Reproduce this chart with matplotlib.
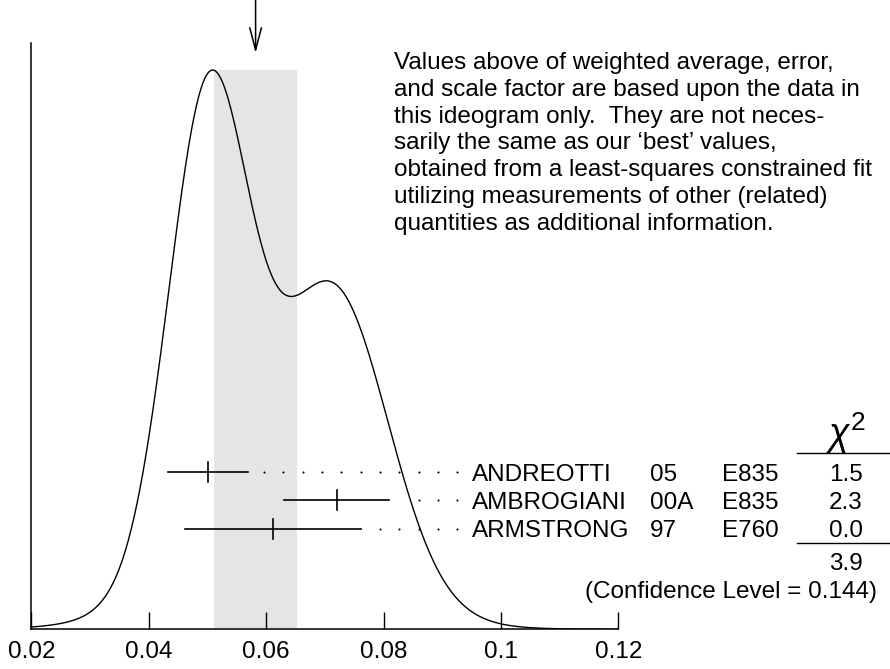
import numpy as np
import matplotlib
matplotlib.use('Agg')
import matplotlib.pyplot as plt
from matplotlib.lines import Line2D

plt.rcParams['font.family'] = ['Liberation Sans', 'DejaVu Sans']
plt.rcParams['mathtext.fontset'] = 'custom'
plt.rcParams['mathtext.rm'] = 'Liberation Sans'
plt.rcParams['mathtext.it'] = 'Liberation Sans:italic'

# Measurements shown in the ideogram
authors = ['ANDREOTTI', 'AMBROGIANI', 'ARMSTRONG']
years = ['05', '00A', '97']
experiments = ['E835', 'E835', 'E760']
values = [0.0501, 0.0720, 0.0611]
errors = [0.0068, 0.0090, 0.0150]
chi2 = ['1.5', '2.3', '0.0']
chi2_total = '3.9'
conf_level = '0.144'

# Weighted average and (scaled) error
avg = 0.0582
avg_err = 0.0071

x_ticks = [0.02, 0.04, 0.06, 0.08, 0.1, 0.12]
x_tick_labels = ['0.02', '0.04', '0.06', '0.08', '0.1', '0.12']

note = ["Values above of weighted average, error,",
        "and scale factor are based upon the data in",
        "this ideogram only.  They are not neces-",
        "sarily the same as our \u2018best\u2019 values,",
        "obtained from a least-squares constrained fit",
        "utilizing measurements of other (related)",
        "quantities as additional information."]

W, H = 890, 669
FS = 17.5


def px(x, y):
    return x / W, 1 - y / H


fig = plt.figure(figsize=(W / 100, H / 100), dpi=100)

x0, y_base, x1, y_top = 31.4, 629.3, 618.3, 42.7
ax = fig.add_axes([x0 / W, 1 - y_base / H, (x1 - x0) / W, (y_base - y_top) / H])
ax_h = y_base - y_top

# Ideogram: one gaussian per measurement, area ~ 1/error
xs = np.linspace(0.02, 0.12, 800)
ideo = np.zeros_like(xs)
for v, e in zip(values, errors):
    ideo += np.exp(-0.5 * ((xs - v) / e) ** 2) / e ** 2
peak = (y_base - 70) / ax_h
ideo = ideo / ideo.max() * peak

ax.axvspan(avg - avg_err, avg + avg_err, ymin=0, ymax=peak,
           color='#e5e5e5', lw=0, zorder=0)
ax.plot(xs, ideo, color='k', lw=1.0, zorder=3)

# Error bars with dotted leaders
row_y = [(y_base - 472) / ax_h, (y_base - 500.3) / ax_h, (y_base - 528.7) / ax_h]
tick_h = 10 / ax_h
dot_end, dot_step, dot_gap = 0.0926, 0.0033, 0.0023
for v, e, y in zip(values, errors, row_y):
    ax.plot([v - e, v + e], [y, y], color='k', lw=1.2, zorder=4)
    ax.plot([v, v], [y - tick_h, y + tick_h], color='k', lw=1.2, zorder=4)
    xd = np.arange(dot_end, v + e + dot_gap, -dot_step)
    ax.plot(xd, np.full(len(xd), y), ls='none', marker='o', ms=1.5,
            mec='none', mfc='k', zorder=4)

ax.set_xlim(0.02, 0.12)
ax.set_ylim(0, 1)
ax.set_xticks(x_ticks)
ax.set_xticklabels(x_tick_labels)
ax.set_yticks([])
ax.tick_params(axis='x', direction='in', length=12.2, width=1.0, pad=8.5,
               labelsize=FS)
for s in ['top', 'right']:
    ax.spines[s].set_visible(False)
for s in ['left', 'bottom']:
    ax.spines[s].set_linewidth(1.1)

# Arrow marking the weighted average
ax.annotate('', xy=(avg, (y_base - 53) / ax_h), xytext=(avg, y_base / ax_h),
            xycoords=('data', 'axes fraction'),
            textcoords=('data', 'axes fraction'),
            arrowprops=dict(arrowstyle='->,head_length=1.6,head_width=0.42',
                            lw=1.1, color='k', shrinkA=0, shrinkB=0,
                            mutation_scale=10),
            annotation_clip=False)

# Note text
for i, line in enumerate(note):
    fig.text(*px(394, 69 + i * 26.8), line, fontsize=FS, va='baseline',
             ha='left')

# Table of measurements
baselines = [481.2, 509.0, 536.6]
for a, yr, ex, c, b in zip(authors, years, experiments, chi2, baselines):
    fig.text(*px(471.7, b), a, fontsize=FS, va='baseline', ha='left')
    fig.text(*px(650, b), yr, fontsize=FS, va='baseline', ha='left')
    fig.text(*px(721.7, b), ex, fontsize=FS, va='baseline', ha='left')
    fig.text(*px(862.7, b), c, fontsize=FS, va='baseline', ha='right')

fig.text(*px(846, 446), r'$\chi^2$', fontsize=27, va='baseline', ha='center')
for yl in [453.3, 543.3]:
    fig.add_artist(Line2D([797.3 / W, 889.3 / W], [1 - yl / H, 1 - yl / H],
                          color='k', lw=1.0, transform=fig.transFigure))
fig.text(*px(862.7, 570), chi2_total, fontsize=FS, va='baseline', ha='right')
fig.text(*px(876.7, 598.3), f'(Confidence Level = {conf_level})',
         fontsize=FS, va='baseline', ha='right')

fig.savefig('out.png', dpi=100)
